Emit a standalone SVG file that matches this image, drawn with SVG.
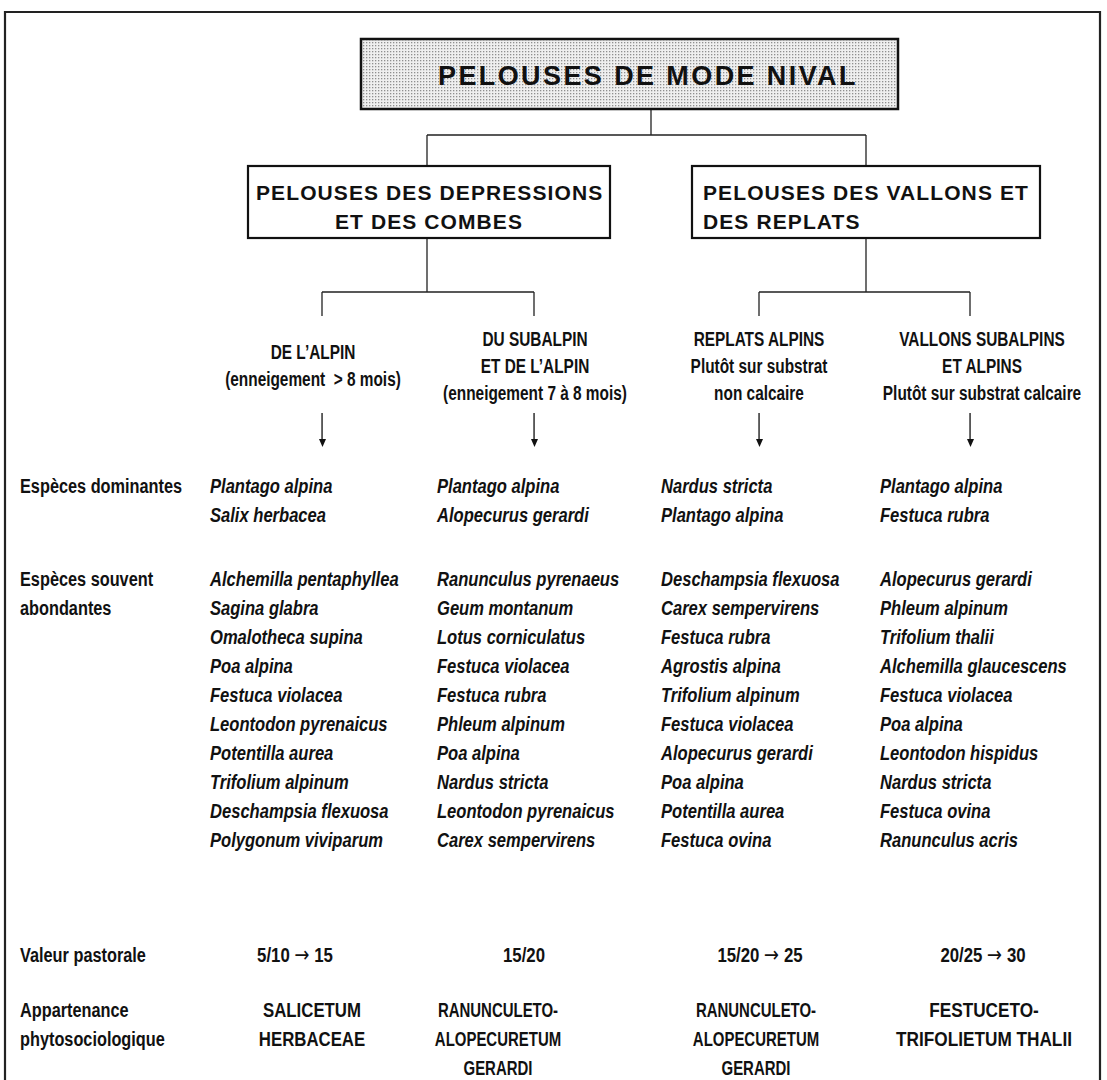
<svg xmlns="http://www.w3.org/2000/svg" width="1107" height="1080" viewBox="0 0 1107 1080">
  <style>
    text { font-family: "Liberation Sans", Arial, sans-serif; fill: #111; }
    .title { font-size: 27px; font-weight: bold; letter-spacing: 2.4px; }
    .head { font-size: 21px; font-weight: bold; letter-spacing: 1.1px; }
    .sub { font-size: 20px; font-weight: bold; text-anchor: middle; }
    .lab { font-size: 20px; font-weight: bold; }
    .sp { font-size: 19.5px; font-weight: bold; font-style: italic; }
    .val { font-size: 20.5px; font-weight: bold; text-anchor: middle; }
    .arr { font-family: "DejaVu Sans", sans-serif; font-weight: normal; font-size: 22px; }
    .frame { fill: none; stroke: #222; stroke-width: 2.2; }
    .box { fill: #fff; stroke: #111; stroke-width: 2.2; }
    .link { fill: none; stroke: #222; stroke-width: 1.3; }
  </style>
  <defs>
    <pattern id="stipple" width="3" height="3" patternUnits="userSpaceOnUse">
      <rect width="3" height="3" fill="#efefef"/>
      <rect width="1.3" height="1.3" fill="#8f8f8f"/>
    </pattern>
  </defs>

  <!-- outer frame, open at the bottom edge -->
  <path class="frame" d="M5,1085 V12 H1100 V1085"/>

  <!-- connectors -->
  <g id="connectors">
    <path class="link" d="M651,109 V135 M427,135 H866 M427,135 V166 M866,135 V166"/>
    <path class="link" d="M427,238 V292 M322,292 H534 M322,292 V316 M534,292 V316"/>
    <path class="link" d="M866,238 V292 M759,292 H970 M759,292 V316 M970,292 V316"/>
    <g fill="#111" stroke="none">
      <rect x="321.4" y="413" width="1.3" height="27"/>
      <path d="M319,439 H326 L322.5,447 z"/>
      <rect x="533.4" y="413" width="1.3" height="27"/>
      <path d="M531,439 H538 L534.5,447 z"/>
      <rect x="758.4" y="413" width="1.3" height="27"/>
      <path d="M756,439 H763 L759.5,447 z"/>
      <rect x="969.4" y="413" width="1.3" height="27"/>
      <path d="M967,439 H974 L970.5,447 z"/>
    </g>
  </g>

  <!-- top node -->
  <g id="node-root">
    <rect x="361" y="39" width="537" height="70" fill="url(#stipple)" stroke="#111" stroke-width="2.5"/>
    <text class="title" x="438" y="85">PELOUSES DE MODE NIVAL</text>
  </g>

  <!-- second level nodes -->
  <g id="node-depressions">
    <rect class="box" x="248" y="166" width="362" height="72"/>
    <text class="head" x="256" y="200">PELOUSES DES DEPRESSIONS</text>
    <text class="head" x="429" y="229" text-anchor="middle">ET DES COMBES</text>
  </g>
  <g id="node-vallons">
    <rect class="box" x="692" y="166" width="348" height="72"/>
    <text class="head" x="703" y="200">PELOUSES DES VALLONS ET</text>
    <text class="head" x="703" y="229">DES REPLATS</text>
  </g>

  <!-- third level nodes -->
  <g id="node-alpin" transform="translate(313 0) scale(0.77 1)">
    <text class="sub" x="0" y="359">DE L’ALPIN</text>
    <text class="sub" x="0" y="386" xml:space="preserve">(enneigement  &gt; 8 mois)</text>
  </g>
  <g id="node-subalpin" transform="translate(535 0) scale(0.77 1)">
    <text class="sub" x="0" y="346">DU SUBALPIN</text>
    <text class="sub" x="0" y="373">ET DE L’ALPIN</text>
    <text class="sub" x="0" y="400">(enneigement 7 à 8 mois)</text>
  </g>
  <g id="node-replats" transform="translate(759 0) scale(0.77 1)">
    <text class="sub" x="0" y="346">REPLATS ALPINS</text>
    <text class="sub" x="0" y="373">Plutôt sur substrat</text>
    <text class="sub" x="0" y="400">non calcaire</text>
  </g>
  <g id="node-vallons-sub" transform="translate(982 0) scale(0.77 1)">
    <text class="sub" x="0" y="346">VALLONS SUBALPINS</text>
    <text class="sub" x="0" y="373">ET ALPINS</text>
    <text class="sub" x="0" y="400">Plutôt sur substrat calcaire</text>
  </g>

  <!-- row labels -->
  <g id="row-labels" transform="translate(20 0) scale(0.815 1)">
    <text class="lab" x="0" y="493">Espèces dominantes</text>
    <text class="lab" x="0" y="586">Espèces souvent</text>
    <text class="lab" x="0" y="615">abondantes</text>
    <text class="lab" x="0" y="962">Valeur pastorale</text>
    <text class="lab" x="0" y="1017">Appartenance</text>
    <text class="lab" x="0" y="1046">phytosociologique</text>
  </g>

  <!-- species, column 1 -->
  <g id="species-1" transform="translate(210 0) scale(0.85 1)">
    <text class="sp" x="0" y="493">Plantago alpina</text>
    <text class="sp" x="0" y="522">Salix herbacea</text>
    <text class="sp" x="0" y="586">Alchemilla pentaphyllea</text>
    <text class="sp" x="0" y="615">Sagina glabra</text>
    <text class="sp" x="0" y="644">Omalotheca supina</text>
    <text class="sp" x="0" y="673">Poa alpina</text>
    <text class="sp" x="0" y="702">Festuca violacea</text>
    <text class="sp" x="0" y="731">Leontodon pyrenaicus</text>
    <text class="sp" x="0" y="760">Potentilla aurea</text>
    <text class="sp" x="0" y="789">Trifolium alpinum</text>
    <text class="sp" x="0" y="818">Deschampsia flexuosa</text>
    <text class="sp" x="0" y="847">Polygonum viviparum</text>
  </g>

  <!-- species, column 2 -->
  <g id="species-2" transform="translate(437 0) scale(0.85 1)">
    <text class="sp" x="0" y="493">Plantago alpina</text>
    <text class="sp" x="0" y="522">Alopecurus gerardi</text>
    <text class="sp" x="0" y="586">Ranunculus pyrenaeus</text>
    <text class="sp" x="0" y="615">Geum montanum</text>
    <text class="sp" x="0" y="644">Lotus corniculatus</text>
    <text class="sp" x="0" y="673">Festuca violacea</text>
    <text class="sp" x="0" y="702">Festuca rubra</text>
    <text class="sp" x="0" y="731">Phleum alpinum</text>
    <text class="sp" x="0" y="760">Poa alpina</text>
    <text class="sp" x="0" y="789">Nardus stricta</text>
    <text class="sp" x="0" y="818">Leontodon pyrenaicus</text>
    <text class="sp" x="0" y="847">Carex sempervirens</text>
  </g>

  <!-- species, column 3 -->
  <g id="species-3" transform="translate(661 0) scale(0.85 1)">
    <text class="sp" x="0" y="493">Nardus stricta</text>
    <text class="sp" x="0" y="522">Plantago alpina</text>
    <text class="sp" x="0" y="586">Deschampsia flexuosa</text>
    <text class="sp" x="0" y="615">Carex sempervirens</text>
    <text class="sp" x="0" y="644">Festuca rubra</text>
    <text class="sp" x="0" y="673">Agrostis alpina</text>
    <text class="sp" x="0" y="702">Trifolium alpinum</text>
    <text class="sp" x="0" y="731">Festuca violacea</text>
    <text class="sp" x="0" y="760">Alopecurus gerardi</text>
    <text class="sp" x="0" y="789">Poa alpina</text>
    <text class="sp" x="0" y="818">Potentilla aurea</text>
    <text class="sp" x="0" y="847">Festuca ovina</text>
  </g>

  <!-- species, column 4 -->
  <g id="species-4" transform="translate(880 0) scale(0.85 1)">
    <text class="sp" x="0" y="493">Plantago alpina</text>
    <text class="sp" x="0" y="522">Festuca rubra</text>
    <text class="sp" x="0" y="586">Alopecurus gerardi</text>
    <text class="sp" x="0" y="615">Phleum alpinum</text>
    <text class="sp" x="0" y="644">Trifolium thalii</text>
    <text class="sp" x="0" y="673">Alchemilla glaucescens</text>
    <text class="sp" x="0" y="702">Festuca violacea</text>
    <text class="sp" x="0" y="731">Poa alpina</text>
    <text class="sp" x="0" y="760">Leontodon hispidus</text>
    <text class="sp" x="0" y="789">Nardus stricta</text>
    <text class="sp" x="0" y="818">Festuca ovina</text>
    <text class="sp" x="0" y="847">Ranunculus acris</text>
  </g>

  <!-- pastoral value per column -->
  <g id="value-1" transform="translate(295 0) scale(0.82 1)">
    <text class="val" x="0" y="962">5/10 <tspan class="arr">→</tspan> 15</text>
  </g>
  <g id="value-2" transform="translate(524 0) scale(0.82 1)">
    <text class="val" x="0" y="962">15/20</text>
  </g>
  <g id="value-3" transform="translate(760 0) scale(0.82 1)">
    <text class="val" x="0" y="962">15/20 <tspan class="arr">→</tspan> 25</text>
  </g>
  <g id="value-4" transform="translate(983 0) scale(0.82 1)">
    <text class="val" x="0" y="962">20/25 <tspan class="arr">→</tspan> 30</text>
  </g>

  <!-- plant association per column -->
  <g id="assoc-1" transform="translate(312 0) scale(0.82 1)">
    <text class="val" x="0" y="1017">SALICETUM</text>
    <text class="val" x="0" y="1046">HERBACEAE</text>
  </g>
  <g id="assoc-2" transform="translate(498 0) scale(0.73 1)">
    <text class="val" x="0" y="1017">RANUNCULETO-</text>
    <text class="val" x="0" y="1046">ALOPECURETUM</text>
    <text class="val" x="0" y="1075">GERARDI</text>
  </g>
  <g id="assoc-3" transform="translate(756 0) scale(0.73 1)">
    <text class="val" x="0" y="1017">RANUNCULETO-</text>
    <text class="val" x="0" y="1046">ALOPECURETUM</text>
    <text class="val" x="0" y="1075">GERARDI</text>
  </g>
  <g id="assoc-4" transform="translate(984 0) scale(0.84 1)">
    <text class="val" x="0" y="1017">FESTUCETO-</text>
    <text class="val" x="0" y="1046">TRIFOLIETUM THALII</text>
  </g>
</svg>
